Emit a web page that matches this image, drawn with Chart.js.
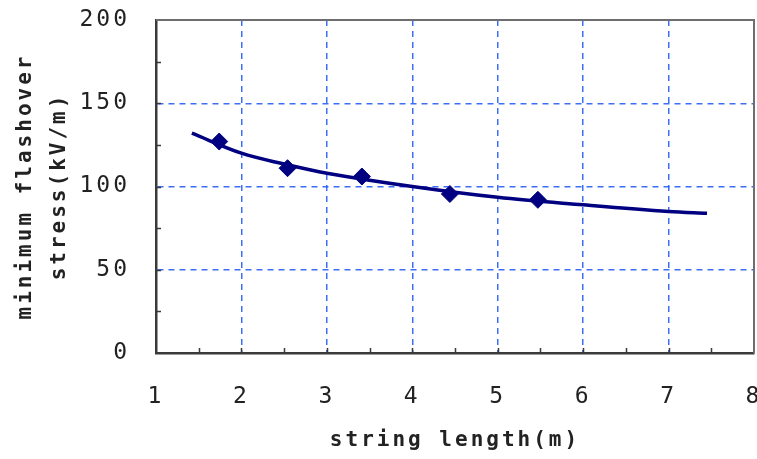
<!DOCTYPE html>
<html>
<head>
<meta charset="utf-8">
<script src="https://cdn.jsdelivr.net/npm/chart.js@4.4.1/dist/chart.umd.min.js"></script>
<style>
  body { margin: 0; background: #fff; }
  canvas { display: block; }
</style>
</head>
<body>
<canvas id="flashChart" width="757" height="459"></canvas>
<script>
// measured points (diamonds)
const measuredLength = [1.74, 2.54, 3.41, 4.44, 5.47];
const measuredStress = [127, 111, 106, 95.5, 92];
// fitted trend curve
const trendLength = [1.42, 2, 2.5, 3, 4, 5, 6, 7, 7.45];
const trendStress = [132, 120, 113.5, 108, 100, 93.5, 89, 85, 84];
// axis ranges
const xTicks = [1, 2, 3, 4, 5, 6, 7, 8];
const yTicks = [0, 50, 100, 150, 200];

const gridBlue = 'rgba(40, 95, 245, 0.9)';
const axisDark = '#3a3a3a';

// spacing between glyphs, short inward tick marks and the top/right frame
const framePlugin = {
  id: 'frame',
  beforeDraw(chart) {
    chart.ctx.letterSpacing = '3px';
  },
  afterDatasetsDraw(chart) {
    const { ctx, chartArea: a, scales: { x, y } } = chart;
    ctx.save();
    ctx.strokeStyle = axisDark;
    ctx.lineWidth = 1.5;
    ctx.beginPath();
    for (let v = 25; v < 200; v += 25) {
      const py = Math.round(y.getPixelForValue(v)) + 0.5;
      ctx.moveTo(a.left, py);
      ctx.lineTo(a.left + 5, py);
    }
    for (let v = 1.5; v < 8; v += 0.5) {
      const px = Math.round(x.getPixelForValue(v)) + 0.5;
      ctx.moveTo(px, a.bottom);
      ctx.lineTo(px, a.bottom - 5);
    }
    ctx.stroke();
    ctx.strokeStyle = '#6e6e6e';
    ctx.lineWidth = 2;
    ctx.beginPath();
    ctx.moveTo(a.left, a.top);
    ctx.lineTo(a.right, a.top);
    ctx.lineTo(a.right, a.bottom);
    ctx.stroke();
    ctx.restore();
  }
};

// labels may spill past the plot edges
function noEdgePadding(s) {
  s.paddingLeft = 0;
  s.paddingRight = 0;
  s.paddingTop = 0;
  s.paddingBottom = 0;
}

const ctx = document.getElementById('flashChart');
const flashChart = new Chart(ctx, {
  type: 'scatter',
  data: {
    datasets: [{
      label: 'trend',
      data: trendLength.map((v, i) => ({ x: v, y: trendStress[i] })),
      showLine: true,
      borderColor: '#000080',
      borderWidth: 3.5,
      pointRadius: 0,
      tension: 0.35,
      order: 2
    }, {
      label: 'measured',
      data: measuredLength.map((v, i) => ({ x: v, y: measuredStress[i] })),
      showLine: false,
      pointStyle: 'rectRot',
      pointRadius: 8.5,
      pointBackgroundColor: '#000080',
      pointBorderColor: '#000080',
      order: 1
    }]
  },
  options: {
    responsive: false,
    animation: false,
    layout: { autoPadding: false, padding: { top: 20, right: 3, left: 0, bottom: 0 } },
    plugins: {
      legend: { display: false },
      tooltip: { enabled: false }
    },
    scales: {
      x: {
        type: 'linear',
        min: xTicks[0],
        max: xTicks[xTicks.length - 1],
        afterBuildTicks: s => { s.ticks = xTicks.map(v => ({ value: v })); },
        afterFit: s => { s.height = 106; noEdgePadding(s); },
        grid: {
          drawTicks: false,
          color: c => (c.tick && (c.tick.value === 1 || c.tick.value === 8)) ? 'rgba(0,0,0,0)' : gridBlue,
          lineWidth: 1.5
        },
        border: { color: axisDark, width: 2.5, dash: [6, 5] },
        ticks: {
          padding: 30,
          color: '#222',
          font: { family: 'DejaVu Sans Mono', size: 23 }
        },
        title: {
          display: true,
          text: 'string length(m)',
          color: '#222',
          font: { family: 'DejaVu Sans Mono', size: 21, weight: 'bold', lineHeight: 1.2 },
          padding: { top: 0, bottom: 6 }
        }
      },
      y: {
        min: yTicks[0],
        max: yTicks[yTicks.length - 1],
        afterBuildTicks: s => { s.ticks = yTicks.map(v => ({ value: v })); },
        afterFit: s => { s.width = 156; noEdgePadding(s); },
        grid: {
          drawTicks: false,
          color: c => (c.tick && (c.tick.value === 0 || c.tick.value === 200)) ? 'rgba(0,0,0,0)' : gridBlue,
          lineWidth: 1.5
        },
        border: { color: axisDark, width: 2.5, dash: [6, 5] },
        ticks: {
          padding: 26,
          color: '#222',
          font: { family: 'DejaVu Sans Mono', size: 23 }
        },
        title: {
          display: true,
          text: ['minimum flashover', 'stress(kV/m)'],
          color: '#222',
          font: { family: 'DejaVu Sans Mono', size: 21, weight: 'bold', lineHeight: 1.65 },
          padding: { top: 8, bottom: 0 }
        }
      }
    }
  },
  plugins: [framePlugin]
});
</script>
</body>
</html>
